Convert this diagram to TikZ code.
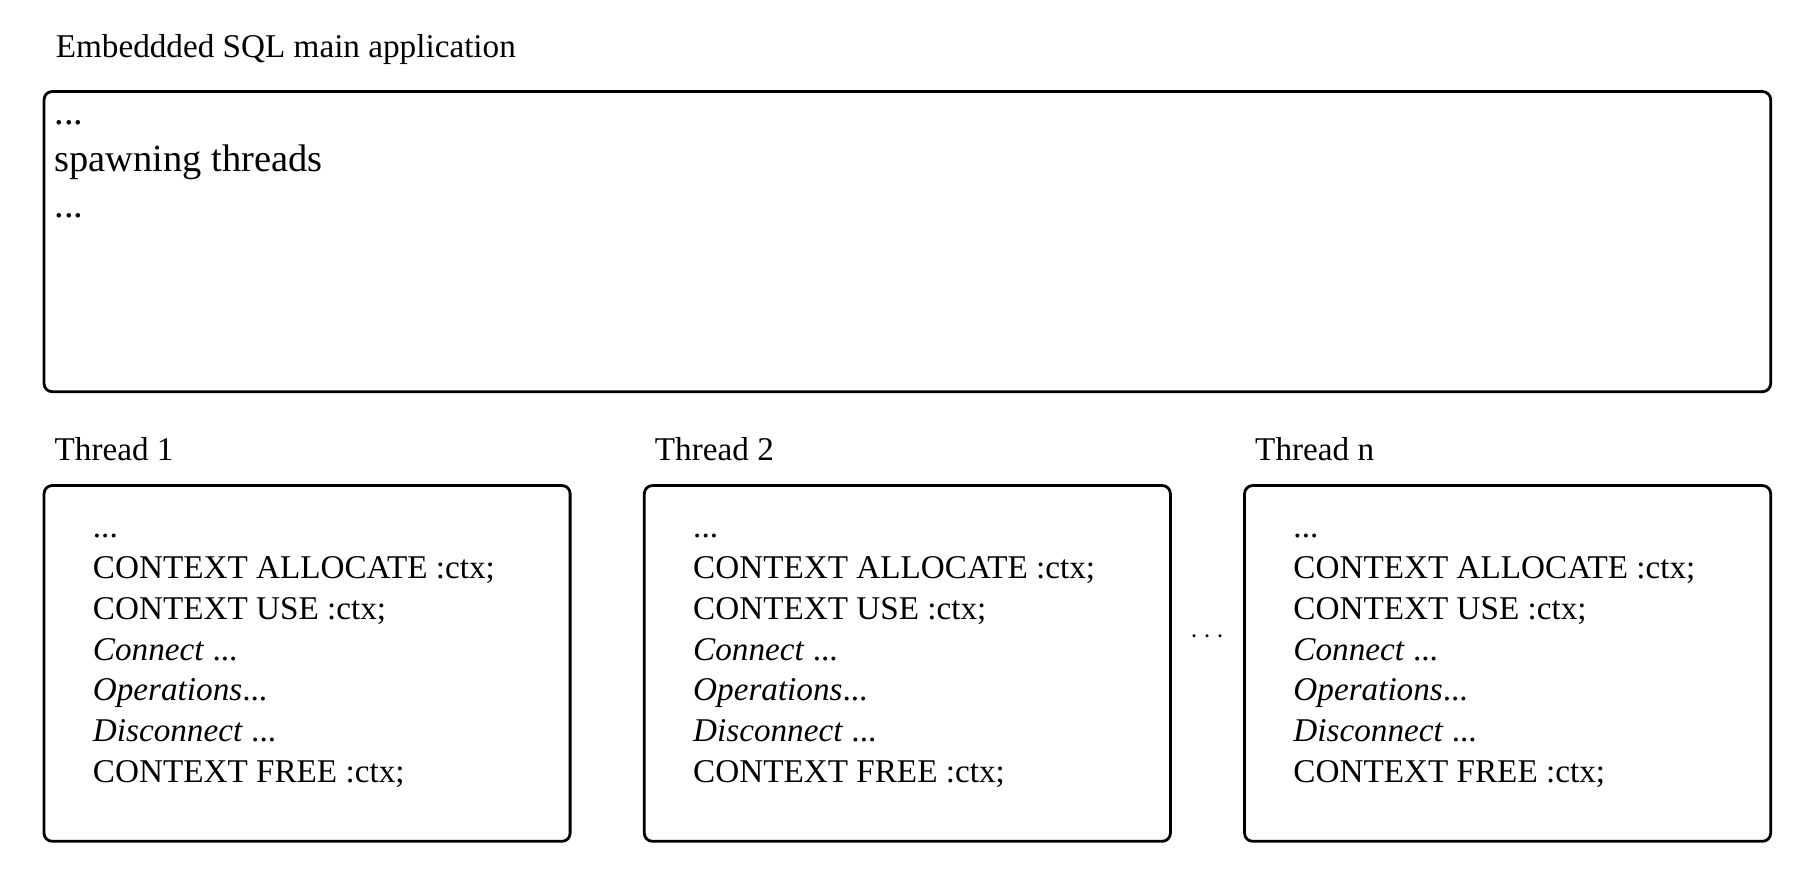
\documentclass[tikz,border=0pt]{standalone}
\usepackage{fontspec}
\setmainfont{Liberation Serif}
\usepackage{tikz}

\tikzset{
  box/.style={draw, line width=2.4pt, rounded corners=7pt},
  lbl/.style={anchor=west, inner sep=0pt, font=\fontsize{28.5}{30}\selectfont},
  code/.style={anchor=north west, inner sep=0pt, align=left,
    font=\fontsize{28.5}{35}\selectfont}
}

\begin{document}
\begin{tikzpicture}[x=0.995pt,y=-0.995pt]
\useasboundingbox (0,0) rectangle (1568,756);

% main application
\node[lbl] (titlemain) at (48,43) {Embeddded SQL main application};
\draw[box] (38,79) rectangle (1528,338);
\node[anchor=north west, inner sep=0pt, align=left,
  font=\fontsize{33}{40}\selectfont] (maintext) at (47,104) {...\\spawning threads\\...};

% threads
\foreach \x/\n in {38/1, 556/2, 1074/n}{
  \node[lbl] (label\n) at (\x+9,388) {Thread \n};
  \draw[box] (\x,419) rectangle (\x+454,726);
  \node[code] (code\n) at (\x+42,461) {...\\CONTEXT ALLOCATE :ctx;\\CONTEXT USE :ctx;\\
    \textit{Connect} ...\\\textit{Operations}...\\\textit{Disconnect} ...\\CONTEXT FREE :ctx;};
}
\node[font=\fontsize{40}{40}\selectfont] (dots) at (1042,550) {$\cdots$};
\end{tikzpicture}
\end{document}
